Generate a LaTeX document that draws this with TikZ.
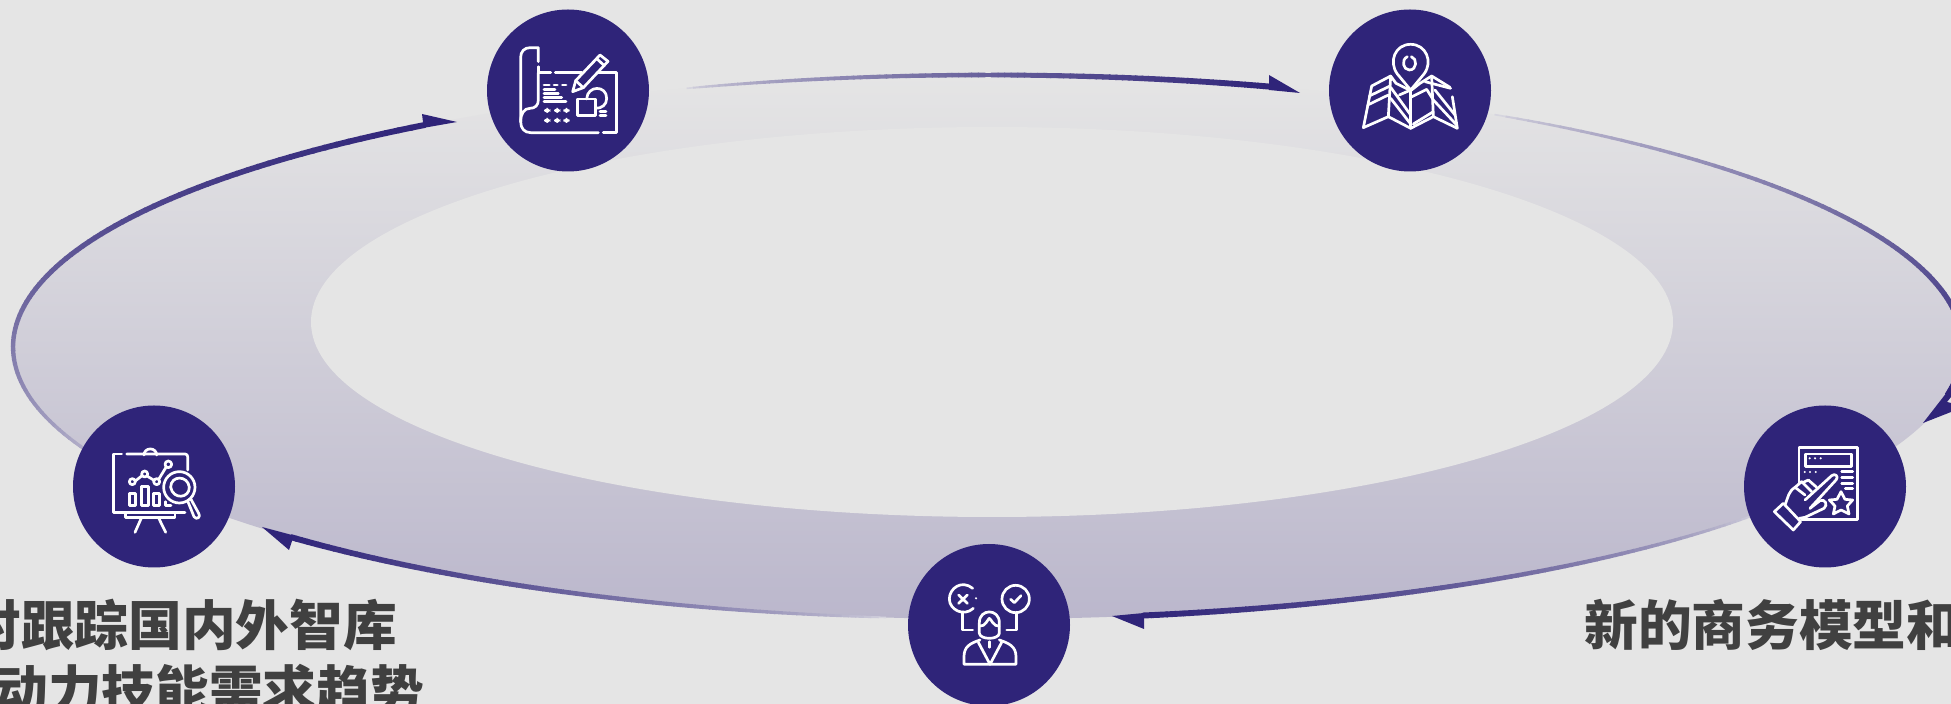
\documentclass[tikz,border=0pt]{standalone}
\usepackage{fontspec}
\newfontfamily\cjk{Noto Sans CJK SC}
\definecolor{bgc}{HTML}{E5E5E5}
\definecolor{hubc}{HTML}{2F2479}
\definecolor{fadec}{HTML}{D8D7E0}
\definecolor{ringb}{HTML}{BBB7CC}
\tikzset{
  hub/.style={circle,fill=hubc,draw=none,minimum size=81pt,inner sep=0pt},
  ico/.style={draw=white,line width=1.35pt,line join=round,line cap=round},
  head/.style={fill=hubc,draw=none},
  lbl/.style={anchor=base west,inner sep=0pt,font=\cjk\bfseries\fontsize{26.85pt}{30pt}\selectfont,text=black!75}
}
\newcommand{\taperarc}[4]{%
  \foreach \i in {0,...,89}{%
    \pgfmathsetmacro{\tt}{\i/90}%
    \pgfmathsetmacro{\aa}{#1+(#2-#1)*\i/90}%
    \pgfmathsetmacro{\bb}{#1+(#2-#1)*(\i+1.15)/90}%
    \pgfmathtruncatemacro{\pp}{100*(\tt+0.001)^0.6}%
    \pgfmathsetmacro{\ww}{0.5*(#3+(#4-#3)*(\tt+0.001)^0.5)}%
    \draw[draw=hubc!\pp!fadec,line width=\ww pt] ({988+975*cos(\aa)},{347+272*sin(\aa)}) -- ({988+975*cos(\bb)},{347+272*sin(\bb)});
  }%
}
\begin{document}
\begin{tikzpicture}[x=0.5pt,y=-0.5pt]
\useasboundingbox (0,0) rectangle (1951,704);
\clip (0,0) rectangle (1951,704);
\fill[bgc] (0,0) rectangle (1951,704);
% rings
\shade[top color=bgc,bottom color=ringb] (988,347) ellipse [x radius=975,y radius=272];
\fill[bgc] (992,322) ellipse [x radius=681,y radius=195];
% tapered arcs
\taperarc{252}{286.8}{1.5}{6}
\taperarc{301.3}{370.1}{1.5}{6}
\taperarc{38}{80.8}{1.5}{6}
\taperarc{96}{135.6}{1.5}{6}
\taperarc{150}{234.6}{2}{6}
% heads
\fill[head] (1300,93) -- (1269,75) -- (1269,84) -- (1269,90) -- cycle;
\fill[head] (1923,423) -- (1951,387) -- (1951,397) -- (1947,402) -- (1951,403) -- (1951,412) -- cycle;
\fill[head] (1112,616) -- (1144,629) -- (1144,619) -- (1144,613) -- cycle;
\fill[head] (262,527) -- (289,550) -- (292,541) -- (292,535) -- cycle;
\fill[head] (457,122) -- (422,114) -- (423,122) -- (423,128) -- cycle;
% hubs
\node[hub] (plan) at (568,90.5) {};
\node[hub] (map) at (1410,90.5) {};
\node[hub] (board) at (154,486.5) {};
\node[hub] (person) at (989,625) {};
\node[hub] (form) at (1825,486.5) {};
% icon: plan
\begin{scope}[shift={(480,0)},x=0.16667pt,y=-0.16667pt,ico]
\draw (175,185) -- (175,143) -- (150,143) .. controls (133,143) and (122,155) .. (122,172) -- (122,365) .. controls (122,385) and (133,398) .. (152,398) -- (355,398);
\draw (370,398) -- (410,398) -- (410,218) -- (352,218);
\draw (226,218) -- (305,218);
\draw (175,200) -- (175,218) -- (212,218);
\draw (175,218) -- (175,300) .. controls (175,316) and (165,325) .. (150,325) .. controls (133,325) and (122,340) .. (122,365);
\draw (278,275) -- (287,242) -- (360,165) -- (384,184) -- (310,263) -- cycle;
\draw (287,242) -- (310,263);
\draw (350,176) -- (373,197);
\draw (192,255) -- (208,255) (222,255) -- (232,255) (247,255) -- (258,255);
\draw (192,268) -- (225,268) (192,281) -- (235,281) (192,293) -- (245,293) (192,305) -- (258,305);
\foreach \xx in {192,222,250}{\foreach \yy in {324,354}{\fill[white,rounded corners=2] (\xx,\yy) rectangle +(19,15);}}
\draw (292,297) rectangle (347,347);
\draw (320,297) .. controls (322,255) and (380,255) .. (380,295) .. controls (380,315) and (365,325) .. (347,325);
\draw (360,335) -- (378,335) (360,347) -- (378,347);
\end{scope}
% icon: map
\begin{scope}[shift={(1320,0)},x=0.16667pt,y=-0.16667pt,ico]
\draw (272,270) -- (232,222) .. controls (205,185) and (225,133) .. (272,133) .. controls (318,133) and (340,185) .. (312,222) -- cycle;
\draw (262,170) .. controls (242,180) and (250,210) .. (268,210) .. controls (292,210) and (292,175) .. (274,170);
\draw (130,383) -- (205,350) -- (272,385) -- (340,350) -- (412,385) -- (397,290);
\draw (130,383) -- (155,258) -- (212,228) -- (228,250) -- (272,272) -- (300,250) -- (335,228) -- (390,262);
\draw (205,350) -- (212,228);
\draw (340,350) -- (335,228);
\draw (272,385) -- (272,272);
\draw (148,288) -- (210,258) (143,315) -- (205,285);
\draw (212,262) -- (272,345) (212,295) -- (272,372);
\draw (238,285) -- (272,270);
\draw (280,372) -- (340,335);
\draw (272,292) -- (320,268) -- (340,300) -- (410,375);
\draw (345,270) -- (405,345);
\draw (315,245) -- (392,265);
\end{scope}
% icon: board
\begin{scope}[shift={(60,400)},x=0.16667pt,y=-0.16667pt,ico]
\draw (185,162) -- (160,162) -- (160,338) -- (375,338);
\draw (200,162) -- (375,162) .. controls (380,162) and (383,165) .. (383,170) -- (383,210);
\draw[rounded corners=3] (252,162) -- (252,147) -- (290,147) -- (290,162);
\draw (197,338) -- (197,352) -- (345,352) -- (345,340);
\draw (245,352) -- (225,397) (295,352) -- (317,397);
\draw (208,280) rectangle (226,317) (245,260) rectangle (265,317) (280,280) rectangle (298,317);
\draw (316,305) -- (316,317) -- (333,317);
\draw (217,245) circle [radius=9] (254,222) circle [radius=9] (290,245) circle [radius=9] (325,193) circle [radius=10];
\draw (226,243) -- (246,227) (261,228) -- (282,241) (296,238) -- (318,202);
\draw (358,262) circle [radius=47];
\draw (332,262) .. controls (332,225) and (384,225) .. (388,262);
\draw (388,262) .. controls (388,295) and (340,300) .. (332,262);
\draw (383,303) -- (402,350) .. controls (410,362) and (424,350) .. (416,340) -- (393,298);
\end{scope}
% icon: person
\begin{scope}[shift={(890,540)},x=0.16667pt,y=-0.16667pt,ico]
\draw (248,145) .. controls (215,118) and (178,145) .. (178,177) .. controls (178,208) and (220,232) .. (250,205);
\fill[white] (258,175) circle [radius=3.5];
\draw (206,165) -- (232,190) (232,165) -- (206,190);
\draw (377,177) circle [radius=41];
\draw (362,178) -- (373,188) -- (393,167);
\draw (218,217) -- (218,270) -- (248,270);
\draw (380,217) -- (380,270) -- (350,270);
\draw (268,280) -- (268,248) .. controls (268,205) and (328,205) .. (328,248) -- (328,280) .. controls (325,300) and (271,300) .. (268,280);
\draw (269,258) .. controls (285,262) and (295,235) .. (298,235) .. controls (302,235) and (312,262) .. (327,258);
\draw (270,300) .. controls (240,310) and (222,320) .. (222,350) -- (222,373) -- (378,373) -- (378,350) .. controls (378,320) and (358,310) .. (328,300);
\draw (265,307) -- (300,373) -- (335,307);
\draw (298,305) -- (298,322);
\end{scope}
% icon: form
\begin{scope}[shift={(1730,380)},x=0.16667pt,y=-0.16667pt,ico]
\draw (207,310) -- (207,202) -- (382,202) -- (382,418) -- (215,418);
\draw (226,222) rectangle (364,260);
\foreach \xx in {239,255,272}{\fill[white] (\xx,235) circle [radius=3.5];}
\foreach \xx in {224,240,257}{\fill[white] (\xx,276) circle [radius=3.5];}
\draw (335,275) -- (368,275) (335,292) -- (368,292) (335,310) -- (368,310) (346,325) -- (368,325);
\draw (333,335) -- (345,358) -- (368,360) -- (352,378) -- (357,402) -- (333,390) -- (310,402) -- (315,378) -- (298,360) -- (321,358) -- cycle;
\draw (133,395) -- (160,370) -- (212,425) -- (190,450) -- cycle;
\draw (165,375) .. controls (175,350) and (175,335) .. (195,322) -- (215,305);
\draw (195,322) -- (225,345) (215,305) -- (245,335) (235,300) -- (260,322);
\draw (218,308) -- (235,300) (225,360) -- (305,287) .. controls (315,278) and (328,290) .. (318,300) -- (240,385);
\draw (240,385) -- (270,362) .. controls (285,355) and (295,375) .. (282,385) -- (225,412) -- (208,415);
\end{scope}
% labels
\node[lbl] (t1) at (-33,645.5) {对跟踪国内外智库};
\node[lbl] (t2) at (-6,710.5) {动力技能需求趋势};
\node[lbl] (t3) at (1584,645.5) {新的商务模型和};
\end{tikzpicture}
\end{document}
